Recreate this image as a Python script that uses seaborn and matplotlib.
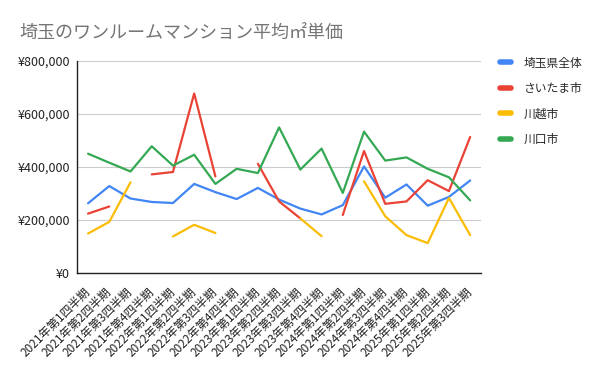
import numpy as np
import pandas as pd
import seaborn as sns
import matplotlib.pyplot as plt

nan = np.nan

# 四半期ラベル
quarters = [f"{y}年第{q}四半期" for y in range(2021, 2026) for q in range(1, 5)][:19]

# 平均㎡単価（円）
saitama_all = [263000, 328000, 281000, 268000, 264000, 336000, 305000, 279000, 321000,
               277000, 243000, 221000, 256000, 402000, 284000, 334000, 254000, 287000, 349000]
saitama_city = [224000, 251000, nan, 372000, 381000, 677000, 364000, nan, 412000,
                270000, 206000, nan, 219000, 460000, 261000, 270000, 350000, 309000, 513000]
kawagoe = [149000, 193000, 342000, nan, 138000, 182000, 151000, nan, nan,
           nan, 206000, 139000, nan, 346000, 214000, 143000, 113000, 283000, 143000]
kawaguchi = [450000, 416000, 383000, 478000, 405000, 446000, 336000, 393000, 377000,
             549000, 390000, 469000, 302000, 533000, 424000, 436000, 393000, 361000, 274000]

series = {
    "埼玉県全体": saitama_all,
    "さいたま市": saitama_city,
    "川越市": kawagoe,
    "川口市": kawaguchi,
}
colors = ["#4285F4", "#EA4335", "#FBBC04", "#34A853"]

sns.set_style("white")
plt.rcParams["font.family"] = ["Noto Sans CJK JP", "DejaVu Sans"]

fig = plt.figure(figsize=(6, 3.71), dpi=100)
ax = fig.add_axes([0.128, 0.264, 0.674, 0.572])

# 欠損値で線を切るため、連続区間ごとに描画
for (name, vals), c in zip(series.items(), colors):
    s = pd.Series(vals)
    ok = s.notna()
    grp = (~ok).cumsum()
    for _, seg in s[ok].groupby(grp[ok]):
        sns.lineplot(x=seg.index, y=seg.values, ax=ax, color=c, linewidth=1.6)
    ax.plot([], [], color=c, linewidth=4, label=name)

ax.set_xlim(-0.53, 18.52)
ax.set_ylim(0, 800000)
ax.set_yticks([0, 200000, 400000, 600000, 800000])
ax.set_yticklabels(["¥0", "¥200,000", "¥400,000", "¥600,000", "¥800,000"])
ax.set_xticks(range(len(quarters)))
ax.set_xticklabels(quarters, rotation=45, ha="right", va="center", rotation_mode="anchor")
ax.tick_params(axis="both", colors="#222222", length=0)
ax.tick_params(axis="y", labelsize=9, pad=5)
ax.tick_params(axis="x", labelsize=8.5, pad=12)
ax.grid(axis="y", color="#cccccc", linewidth=0.8)
ax.set_axisbelow(True)
for sp in ["top", "right"]:
    ax.spines[sp].set_visible(False)
for sp in ["left", "bottom"]:
    ax.spines[sp].set_color("#222222")
    ax.spines[sp].set_linewidth(1.0)
ax.set_xlabel("")
ax.set_ylabel("")

fig.text(0.033, 0.912, "埼玉のワンルームマンション平均㎡単価", fontsize=13, color="#757575",
         ha="left", va="center")

ax.legend(loc="upper left", bbox_to_anchor=(0.815, 0.876), bbox_transform=fig.transFigure,
          frameon=False, fontsize=8.5, handlelength=1.0, labelspacing=1.05, handletextpad=1.0)

fig.savefig("out.png", dpi=100)
